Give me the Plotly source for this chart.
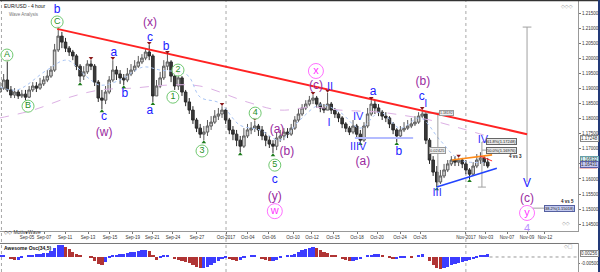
import plotly.graph_objects as go

# ---------------- data (8-hour steps) ----------------
bar_index = list(range(135))

close = [1.1902, 1.1929, 1.1896, 1.1879, 1.1889, 1.1876, 1.1882, 1.1872, 1.1896, 1.1909,
         1.1902, 1.1916, 1.1929, 1.1942, 1.1962, 1.2029, 1.2075, 1.2055, 1.2035, 1.2022,
         1.2009, 1.1975, 1.1942, 1.1956, 1.1982, 1.1975, 1.1922, 1.1869, 1.1862, 1.1889,
         1.1929, 1.1962, 1.1949, 1.1936, 1.1929, 1.1949, 1.1962, 1.1975, 1.1989, 1.2002,
         1.2022, 1.2009, 1.1876, 1.1909, 1.1936, 1.1975, 1.1989, 1.1942, 1.1909, 1.1936,
         1.1889, 1.1856, 1.1829, 1.1796, 1.1769, 1.1749, 1.1756, 1.1776, 1.1789, 1.1809,
         1.1816, 1.1829, 1.1796, 1.1763, 1.1749, 1.1729, 1.1709, 1.1743, 1.1763, 1.1769,
         1.1776, 1.1763, 1.1743, 1.1729, 1.1716, 1.1709, 1.1736, 1.1743, 1.1756, 1.1749,
         1.1769, 1.1796, 1.1816, 1.1836, 1.1849, 1.1862, 1.1869, 1.1849, 1.1836, 1.1829,
         1.1849, 1.1829, 1.1816, 1.1803, 1.1783, 1.1769, 1.1756, 1.1776, 1.1749, 1.1729,
         1.1776, 1.1816, 1.1849, 1.1836, 1.1822, 1.1809, 1.1803, 1.1783, 1.1763, 1.1743,
         1.1763, 1.1769, 1.1776, 1.1783, 1.1789, 1.1809, 1.1816, 1.1729, 1.1663, 1.1623,
         1.1590, 1.1610, 1.1630, 1.1650, 1.1663, 1.1656, 1.1663, 1.1650, 1.1630, 1.1616,
         1.1643, 1.1663, 1.1670, 1.1656, 1.1643]

high = [1.1922, 1.1949, 1.1989, 1.1909, 1.1902, 1.1896, 1.1896, 1.1896, 1.1909, 1.1922,
        1.1922, 1.1936, 1.1942, 1.1962, 1.1975, 1.2049, 1.2099, 1.2089, 1.2069, 1.2042,
        1.2029, 1.2015, 1.1982, 1.1975, 1.1995, 1.1995, 1.1982, 1.1929, 1.1896, 1.1909,
        1.1942, 1.1995, 1.1975, 1.1962, 1.1949, 1.1969, 1.1982, 1.1995, 1.2009, 1.2015,
        1.2035, 1.2045, 1.2015, 1.1929, 1.1956, 1.1995, 1.2015, 1.1995, 1.1956, 1.1946,
        1.1942, 1.1896, 1.1869, 1.1842, 1.1803, 1.1783, 1.1776, 1.1796, 1.1809, 1.1829,
        1.1836, 1.1842, 1.1836, 1.1803, 1.1776, 1.1763, 1.1743, 1.1769, 1.1783, 1.1789,
        1.1793, 1.1783, 1.1776, 1.1756, 1.1743, 1.1729, 1.1756, 1.1763, 1.1769, 1.1769,
        1.1783, 1.1809, 1.1836, 1.1849, 1.1862, 1.1876, 1.1879, 1.1876, 1.1856, 1.1849,
        1.1886, 1.1856, 1.1836, 1.1822, 1.1809, 1.1789, 1.1776, 1.1796, 1.1783, 1.1763,
        1.1789, 1.1836, 1.1862, 1.1862, 1.1849, 1.1829, 1.1822, 1.1809, 1.1789, 1.1769,
        1.1776, 1.1789, 1.1796, 1.1803, 1.1809, 1.1822, 1.1829, 1.1822, 1.1736, 1.1676,
        1.1643, 1.1630, 1.1650, 1.1663, 1.1676, 1.1676, 1.1670, 1.1670, 1.1663, 1.1636,
        1.1656, 1.1683, 1.1689, 1.1676, 1.1670]

low = [1.1889, 1.1896, 1.1889, 1.1869, 1.1869, 1.1866, 1.1869, 1.1862, 1.1869, 1.1889,
       1.1889, 1.1896, 1.1909, 1.1922, 1.1936, 1.1956, 1.2022, 1.2035, 1.2022, 1.2009,
       1.1995, 1.1962, 1.1922, 1.1929, 1.1949, 1.1962, 1.1909, 1.1856, 1.1832, 1.1849,
       1.1882, 1.1922, 1.1929, 1.1916, 1.1912, 1.1922, 1.1942, 1.1956, 1.1969, 1.1982,
       1.1995, 1.1995, 1.1856, 1.1876, 1.1902, 1.1929, 1.1962, 1.1922, 1.1896, 1.1896,
       1.1876, 1.1842, 1.1816, 1.1783, 1.1756, 1.1736, 1.1729, 1.1743, 1.1763, 1.1783,
       1.1796, 1.1803, 1.1783, 1.1749, 1.1729, 1.1709, 1.1689, 1.1703, 1.1736, 1.1749,
       1.1756, 1.1743, 1.1729, 1.1709, 1.1703, 1.1686, 1.1696, 1.1723, 1.1729, 1.1736,
       1.1743, 1.1763, 1.1789, 1.1809, 1.1829, 1.1842, 1.1849, 1.1836, 1.1822, 1.1819,
       1.1829, 1.1816, 1.1803, 1.1789, 1.1769, 1.1756, 1.1746, 1.1749, 1.1736, 1.1723,
       1.1723, 1.1769, 1.1809, 1.1816, 1.1809, 1.1796, 1.1789, 1.1769, 1.1749, 1.1723,
       1.1736, 1.1756, 1.1763, 1.1769, 1.1776, 1.1783, 1.1803, 1.1716, 1.1650, 1.1610,
       1.1573, 1.1583, 1.1603, 1.1623, 1.1643, 1.1643, 1.1643, 1.1636, 1.1616, 1.1600,
       1.1610, 1.1636, 1.1650, 1.1643, 1.1636]

first_open = 1.1889
open_ = [first_open] + close[:-1]

ao_values = [0.0008, 0.0008, 0.0, -0.0016, -0.0024, -0.0024, -0.0008, 0.0, 0.0008, 0.0016,
             0.0024, 0.0024, 0.0032, 0.0032, 0.0048, 0.0072, 0.0096, 0.0096, 0.0080, 0.0064,
             0.0040, 0.0024, 0.0008, 0.0, 0.0, -0.0008, -0.0032, -0.0056, -0.0064, -0.0040,
             -0.0008, 0.0008, 0.0016, 0.0024, 0.0024, 0.0032, 0.0040, 0.0040, 0.0048, 0.0056,
             0.0056, 0.0048, 0.0016, -0.0024, -0.0008, 0.0008, 0.0016, 0.0, -0.0016, -0.0024,
             -0.0032, -0.0040, -0.0048, -0.0064, -0.0080, -0.0088, -0.0088, -0.0080, -0.0064, -0.0048,
             -0.0032, -0.0016, -0.0008, -0.0016, -0.0024, -0.0032, -0.0024, -0.0008, 0.0, 0.0008,
             0.0008, 0.0, -0.0016, -0.0024, -0.0032, -0.0032, -0.0024, -0.0008, 0.0, 0.0008,
             0.0016, 0.0024, 0.0040, 0.0056, 0.0064, 0.0072, 0.0080, 0.0072, 0.0056, 0.0040,
             0.0032, 0.0016, 0.0008, 0.0, -0.0016, -0.0024, -0.0032, -0.0032, -0.0024, -0.0016,
             0.0, 0.0008, 0.0016, 0.0024, 0.0024, 0.0016, 0.0, -0.0008, -0.0016, -0.0016,
             -0.0008, -0.0008, 0.0, -0.0008, 0.0, 0.0016, 0.0024, 0.0, -0.0032, -0.0064,
             -0.0088, -0.0096, -0.0088, -0.0080, -0.0064, -0.0056, -0.0048, -0.0040, -0.0032, -0.0024,
             -0.0016, -0.0008, 0.0008, 0.0016, 0.0024]

date_ticks = [7.4, 12.1, 17.9, 24.2, 30.2, 36.5, 41.8, 47.5, 54.1, 62.1, 68.1, 73.9,
              80.5, 85.7, 91.5, 98.1, 103.6, 109.9, 115.4, 128.0, 133.5, 139.3, 144.8, 149.7]
date_labels = ["Sep-05", "Sep-07", "Sep-11", "Sep-13", "Sep-15", "Sep-19", "Sep-21", "Sep-24",
               "Sep-27", "Oct-2017", "Oct-04", "Oct-06", "Oct-10", "Oct-12", "Oct-15", "Oct-18",
               "Oct-20", "Oct-24", "Oct-26", "Nov-2017", "Nov-03", "Nov-07", "Nov-09", "Nov-12"]
month_lines = [0.4, 62.1, 128.0]

price_ticks = [1.145, 1.150, 1.155, 1.160, 1.165, 1.170, 1.175, 1.180, 1.185, 1.190,
               1.195, 1.200, 1.205, 1.210, 1.215]
price_labels = ["%.5f" % v for v in price_ticks]

# moving averages (read at a few points)
ma_fast_x = [0, 4.7, 12.9, 18.4, 23.9, 27.5, 33, 39.3, 44, 51.4, 55, 60.4, 65.9, 71.4, 76.9,
             82.4, 87.9, 93.4, 98.9, 104.4, 109.9, 115.4, 120.9, 126.4, 133.8]
ma_fast_y = [1.1906, 1.1896, 1.1962, 1.1995, 1.1939, 1.1912, 1.1929, 1.1972, 1.1962, 1.1946,
             1.1872, 1.1852, 1.1779, 1.1763, 1.1729, 1.1796, 1.1846, 1.1822, 1.1769, 1.1822,
             1.1769, 1.1803, 1.1729, 1.1663, 1.1656]
ma_slow_x = [0, 9.1, 18.4, 27.5, 36.5, 45.9, 54.9, 67.9, 76.9, 86, 93.4, 104.4, 110, 118.1, 126.4, 133.8]
ma_slow_y = [1.1803, 1.1829, 1.1869, 1.1896, 1.1902, 1.1912, 1.1909, 1.1856, 1.1829, 1.1839,
             1.1829, 1.1822, 1.1813, 1.1796, 1.1769, 1.1743]

# trend lines
red_line_x = [15.7, 144.8]
red_line_y = [1.2099, 1.1749]
blue_line_x = [120.0, 136.5]
blue_line_y = [1.1573, 1.1636]
orange_line_x = [124.2, 135.2]
orange_line_y = [1.1663, 1.1680]
short_red_x = [131.9, 135.2]
short_red_y = [1.1676, 1.1660]
lavender_x = [97.5, 113.5]
lavender_y = [1.1736, 1.1736]

# measuring tool segments
gray_seg_x = [120.3, 120.3, None, 116.2, 124.2, None, 132.4, 132.4, None, 131.3, 133.5, None,
              132.4, 135.3, None, 132.4, 135.3, None, 144.8, 144.8, None, 143.6, 146.0, None,
              144.8, 150.3]
gray_seg_y = [1.1819, 1.1573, None, 1.1819, 1.1819, None, 1.1723, 1.1573, None, 1.1573, 1.1573, None,
              1.1723, 1.1723, None, 1.1696, 1.1696, None, 1.2105, 1.1590, None, 1.2105, 1.2105, None,
              1.1503, 1.1503]

# wave labels
green_text = ["A", "B", "C", "1", "2", "3", "4", "5"]
green_x = [1.9, 7.7, 15.7, 47.5, 48.9, 55.5, 70.1, 75.5]
green_y = [1.2012, 1.1842, 1.2122, 1.1872, 1.1962, 1.1693, 1.1819, 1.1646]

blue_text = ["b", "a", "b", "c", "a", "b", "c", "c", "a", "b", "c", "V"]
blue_x = [15.7, 31.3, 34.3, 41.2, 41.2, 45.6, 28.6, 75.5, 102.5, 109.6, 115.9, 144.8]
blue_y = [1.2163, 1.2019, 1.1882, 1.2069, 1.1826, 1.2039, 1.1806, 1.1596, 1.1889, 1.1689, 1.1873, 1.1583]

roman_text = ["II", "I", "IV", "IIIV", "I", "III", "IV"]
roman_x = [90.7, 90.4, 98.4, 98.4, 117.0, 120.1, 132.7]
roman_y = [1.1906, 1.1786, 1.1806, 1.1706, 1.1849, 1.1553, 1.1729]

purple_text = ["(x)", "(w)", "(a)", "(b)", "(y)", "(c)", "(a)", "(b)", "(c)"]
purple_x = [41.2, 28.6, 76.1, 78.8, 75.5, 86.8, 99.7, 116.2, 144.8]
purple_y = [1.2118, 1.1753, 1.1763, 1.1689, 1.1540, 1.1909, 1.1656, 1.1922, 1.1533]

pink_text = ["w", "x", "y"]
pink_x = [75.5, 86.8, 144.8]
pink_y = [1.1493, 1.1959, 1.1487]

light_text = ["4"]
light_x = [144.8]
light_y = [1.1434]

hi_mark_x = [2, 16, 25, 31, 41, 46, 49, 61, 70, 86, 90, 102, 116, 126]
hi_mark_y = [1.1989, 1.2099, 1.1995, 1.1995, 1.2045, 1.2015, 1.1946, 1.1842, 1.1793, 1.1879,
             1.1886, 1.1862, 1.1829, 1.1670]
lo_mark_x = [7, 22, 28, 34, 42, 56, 66, 75, 99, 109, 120, 129]
lo_mark_y = [1.1862, 1.1922, 1.1832, 1.1912, 1.1856, 1.1729, 1.1689, 1.1686, 1.1723, 1.1723,
             1.1573, 1.1600]

# ---------------- figure ----------------
FONT = "Liberation Sans"
fig = go.Figure()

fig.add_trace(go.Scatter(x=ma_slow_x, y=ma_slow_y, mode="lines", line=dict(color="#dcb0e4", width=1, dash="dash", shape="spline"), hoverinfo="skip"))
fig.add_trace(go.Scatter(x=ma_fast_x, y=ma_fast_y, mode="lines", line=dict(color="#a8c4f4", width=1, dash="dot", shape="spline"), hoverinfo="skip"))
fig.add_trace(go.Scatter(x=lavender_x, y=lavender_y, mode="lines", line=dict(color="#b4bcff", width=2), hoverinfo="skip"))

fig.add_trace(go.Candlestick(
    x=bar_index, open=open_, high=high, low=low, close=close,
    increasing=dict(line=dict(color="#5a5a5a", width=1), fillcolor="#d8d8d8"),
    decreasing=dict(line=dict(color="#2a2a2a", width=1), fillcolor="#3a3a3a"),
    whiskerwidth=0, hoverinfo="skip"))

fig.add_trace(go.Scatter(x=gray_seg_x, y=gray_seg_y, mode="lines", line=dict(color="#a0a0a0", width=1), hoverinfo="skip", cliponaxis=False))
fig.add_trace(go.Scatter(x=red_line_x, y=red_line_y, mode="lines", line=dict(color="#ff2222", width=2), hoverinfo="skip"))
fig.add_trace(go.Scatter(x=blue_line_x, y=blue_line_y, mode="lines", line=dict(color="#2244ff", width=1.6), hoverinfo="skip"))
fig.add_trace(go.Scatter(x=orange_line_x, y=orange_line_y, mode="lines", line=dict(color="#ff8c1a", width=1.6), hoverinfo="skip"))
fig.add_trace(go.Scatter(x=short_red_x, y=short_red_y, mode="lines", line=dict(color="#ff3030", width=1), hoverinfo="skip"))

mark_off = 0.0007
fig.add_trace(go.Scatter(x=hi_mark_x, y=[v + mark_off for v in hi_mark_y], mode="markers",
                         marker=dict(symbol="triangle-down", size=4, color="#8b1a1a"), hoverinfo="skip"))
fig.add_trace(go.Scatter(x=lo_mark_x, y=[v - mark_off for v in lo_mark_y], mode="markers",
                         marker=dict(symbol="triangle-up", size=4, color="#1a7a1a"), hoverinfo="skip"))

fig.add_trace(go.Scatter(x=green_x, y=green_y, mode="markers+text", text=green_text, textposition="middle center",
                         marker=dict(symbol="circle", size=12, color="rgba(255,255,255,0.9)", line=dict(color="#70c870", width=1)),
                         textfont=dict(family=FONT, size=9, color="#1f8f1f"), hoverinfo="skip", cliponaxis=False))
fig.add_trace(go.Scatter(x=pink_x, y=pink_y, mode="markers+text", text=pink_text, textposition="middle center",
                         marker=dict(symbol="circle", size=15, color="rgba(255,255,255,0.9)", line=dict(color="#ff70ff", width=1)),
                         textfont=dict(family=FONT, size=11, color="#ff33ff"), hoverinfo="skip", cliponaxis=False))
fig.add_trace(go.Scatter(x=blue_x, y=blue_y, mode="text", text=blue_text, textposition="middle center",
                         textfont=dict(family=FONT, size=12, color="#1a1aff"), hoverinfo="skip", cliponaxis=False))
fig.add_trace(go.Scatter(x=roman_x, y=roman_y, mode="text", text=roman_text, textposition="middle center",
                         textfont=dict(family="Liberation Sans Narrow, " + FONT, size=11, color="#3333ff"), hoverinfo="skip", cliponaxis=False))
fig.add_trace(go.Scatter(x=purple_x, y=purple_y, mode="text", text=purple_text, textposition="middle center",
                         textfont=dict(family=FONT, size=12, color="#9a2aa0"), hoverinfo="skip", cliponaxis=False))
fig.add_trace(go.Scatter(x=light_x, y=light_y, mode="text", text=light_text, textposition="middle center",
                         textfont=dict(family=FONT, size=11, color="#b890ff"), hoverinfo="skip", cliponaxis=False))

# oscillator
ao_colors = []
for i, v in enumerate(ao_values):
    prev = ao_values[i - 1] if i > 0 else v
    ao_colors.append("#3c3cff" if v >= prev else "#b03434")
fig.add_trace(go.Bar(x=bar_index, y=ao_values, marker=dict(color=ao_colors, line=dict(width=0)),
                     width=0.9, xaxis="x", yaxis="y2", hoverinfo="skip"))
fig.add_trace(go.Scatter(x=[134.5, 158.8], y=[0, 0], mode="lines", xaxis="x", yaxis="y2",
                         line=dict(color="#999999", width=1, dash="dot"), hoverinfo="skip"))

small = dict(family=FONT, size=5, color="#333333")
shapes = []
for m in month_lines:
    shapes.append(dict(type="line", xref="x", yref="paper", x0=m, x1=m, y0=0, y1=1,
                       line=dict(color="#a8a8a8", width=1, dash="dot"), layer="below"))
shapes += [
    dict(type="line", xref="paper", yref="paper", x0=0, x1=1, y0=0.1048, y1=0.1048, line=dict(color="#777", width=1)),
    dict(type="line", xref="paper", yref="paper", x0=0, x1=1.04, y0=0.999, y1=0.999, line=dict(color="#333", width=2)),
    dict(type="rect", xref="paper", yref="paper", x0=1.0346, x1=1.04, y0=0, y1=1, line=dict(width=0), fillcolor="#233a78"),
    dict(type="line", xref="paper", yref="y", x0=1.003, x1=1.033, y0=1.1637, y1=1.1637, line=dict(color="#e03030", width=1)),
]

ann = [
    dict(xref="paper", yref="paper", x=0.004, y=0.995, text="EUR/USD - 4 hour", showarrow=False, xanchor="left", yanchor="top", font=dict(family=FONT, size=5, color="#111")),
    dict(xref="paper", yref="paper", x=0.012, y=0.965, text="Wave Analysis", showarrow=False, xanchor="left", yanchor="top", font=dict(family=FONT, size=4.5, color="#777")),
    dict(xref="paper", yref="paper", x=0.995, y=0.995, text="◇◇◇", showarrow=False, xanchor="right", yanchor="top", font=dict(family="DejaVu Sans", size=5, color="#999")),
    dict(xref="paper", yref="paper", x=0.003, y=0.147, text="◇◇ MotiveWave", showarrow=False, xanchor="left", yanchor="middle", font=dict(family=FONT, size=5, color="#333")),
    dict(xref="paper", yref="paper", x=0.004, y=0.088, text="<b>Awesome Osc(34,5)</b>", showarrow=False, xanchor="left", yanchor="middle", font=dict(family=FONT, size=5, color="#111")),
    dict(xref="paper", yref="paper", x=0.99, y=0.18, text="◇◇", showarrow=False, xanchor="right", yanchor="middle", font=dict(family="DejaVu Sans", size=5, color="#999")),
    dict(xref="paper", yref="paper", x=0.995, y=0.096, text="◇□", showarrow=False, xanchor="right", yanchor="middle", font=dict(family="DejaVu Sans", size=5, color="#999")),
    dict(xref="paper", yref="y", x=1.003, y=1.1734, text="1.17248", showarrow=False, xanchor="left", bgcolor="white", bordercolor="#888", borderwidth=1, borderpad=0, font=dict(family=FONT, size=4.5, color="#333")),
    dict(xref="paper", yref="y", x=1.003, y=1.1666, text="1.16632", showarrow=False, xanchor="left", bgcolor="#d4f2f6", bordercolor="#66a0a8", borderwidth=1, borderpad=0, font=dict(family=FONT, size=4.5, color="#333")),
    dict(xref="paper", yref="y", x=1.003, y=1.1647, text="1.16431", showarrow=False, xanchor="left", bgcolor="#c6c8f2", bordercolor="#5a5ea8", borderwidth=1, borderpad=0, font=dict(family=FONT, size=4.5, color="#333")),
    dict(xref="paper", yref="y2", x=1.003, y=0.0030, text="0.00256", showarrow=False, xanchor="left", bgcolor="white", bordercolor="#888", borderwidth=1, borderpad=0, font=dict(family=FONT, size=4.5, color="#333")),
    dict(xref="x", yref="y", x=137.7, y=1.1723, text="61.8%(1.17248)", showarrow=False, bgcolor="#e8e8e8", bordercolor="#666", borderwidth=1, borderpad=0, font=dict(family=FONT, size=4, color="#222")),
    dict(xref="x", yref="y", x=137.7, y=1.1696, text="50.0%(1.16976)", showarrow=False, bgcolor="#e8e8e8", bordercolor="#666", borderwidth=1, borderpad=0, font=dict(family=FONT, size=4, color="#222")),
    dict(xref="x", yref="y", x=141.5, y=1.1674, text="<b>4 vs 3</b>", showarrow=False, font=dict(family=FONT, size=4.5, color="#222")),
    dict(xref="x", yref="y", x=153.8, y=1.1503, text="38.2%(1.15018)", showarrow=False, bgcolor="#c4cbf0", bordercolor="#5560a0", borderwidth=1, borderpad=0, font=dict(family=FONT, size=4, color="#222")),
    dict(xref="x", yref="y", x=155.8, y=1.1524, text="<b>4 vs 5</b>", showarrow=False, font=dict(family=FONT, size=4.5, color="#222")),
    dict(xref="x", yref="y", x=120.3, y=1.1696, text="0.02425", showarrow=False, bgcolor="#eeeeee", bordercolor="#999", borderwidth=1, borderpad=0, font=dict(family=FONT, size=4, color="#333")),
    dict(xref="x", yref="y", x=122.6, y=1.1819, text="1.18192", showarrow=False, bgcolor="#eeeeee", bordercolor="#999", borderwidth=1, borderpad=0, font=dict(family=FONT, size=3.5, color="#333")),
]

fig.update_layout(
    width=600, height=272,
    margin=dict(l=0, r=22, t=0, b=0, autoexpand=False),
    paper_bgcolor="white", plot_bgcolor="white", showlegend=False,
    boxgap=0.3, boxgroupgap=0, bargap=0,
    xaxis=dict(domain=[0, 1], range=[0, 158.8], anchor="y", tickvals=date_ticks, ticktext=date_labels,
               tickangle=0, ticks="outside", ticklen=2, tickcolor="#777",
               tickfont=dict(family=FONT, size=4.5, color="#333"),
               showgrid=False, zeroline=False, showline=True, linecolor="#999", linewidth=1,
               rangeslider=dict(visible=False), fixedrange=True),
    yaxis=dict(domain=[0.1507, 1], range=[1.1427, 1.2195], side="right", anchor="x",
               tickvals=price_ticks, ticktext=price_labels, ticks="outside", ticklen=2, tickcolor="#777",
               tickfont=dict(family=FONT, size=4.5, color="#333"), showgrid=False, zeroline=False,
               showline=True, linecolor="#999", linewidth=1),
    yaxis2=dict(domain=[0, 0.1048], range=[-0.012, 0.0108], side="right", anchor="x",
                tickvals=[-0.005], ticktext=["-0.00500"], ticks="outside", ticklen=1, tickcolor="#777",
                tickfont=dict(family=FONT, size=4.5, color="#333"), showgrid=False, zeroline=False,
                showline=True, linecolor="#999", linewidth=1),
    shapes=shapes, annotations=ann,
)

fig.write_html("out.html")
